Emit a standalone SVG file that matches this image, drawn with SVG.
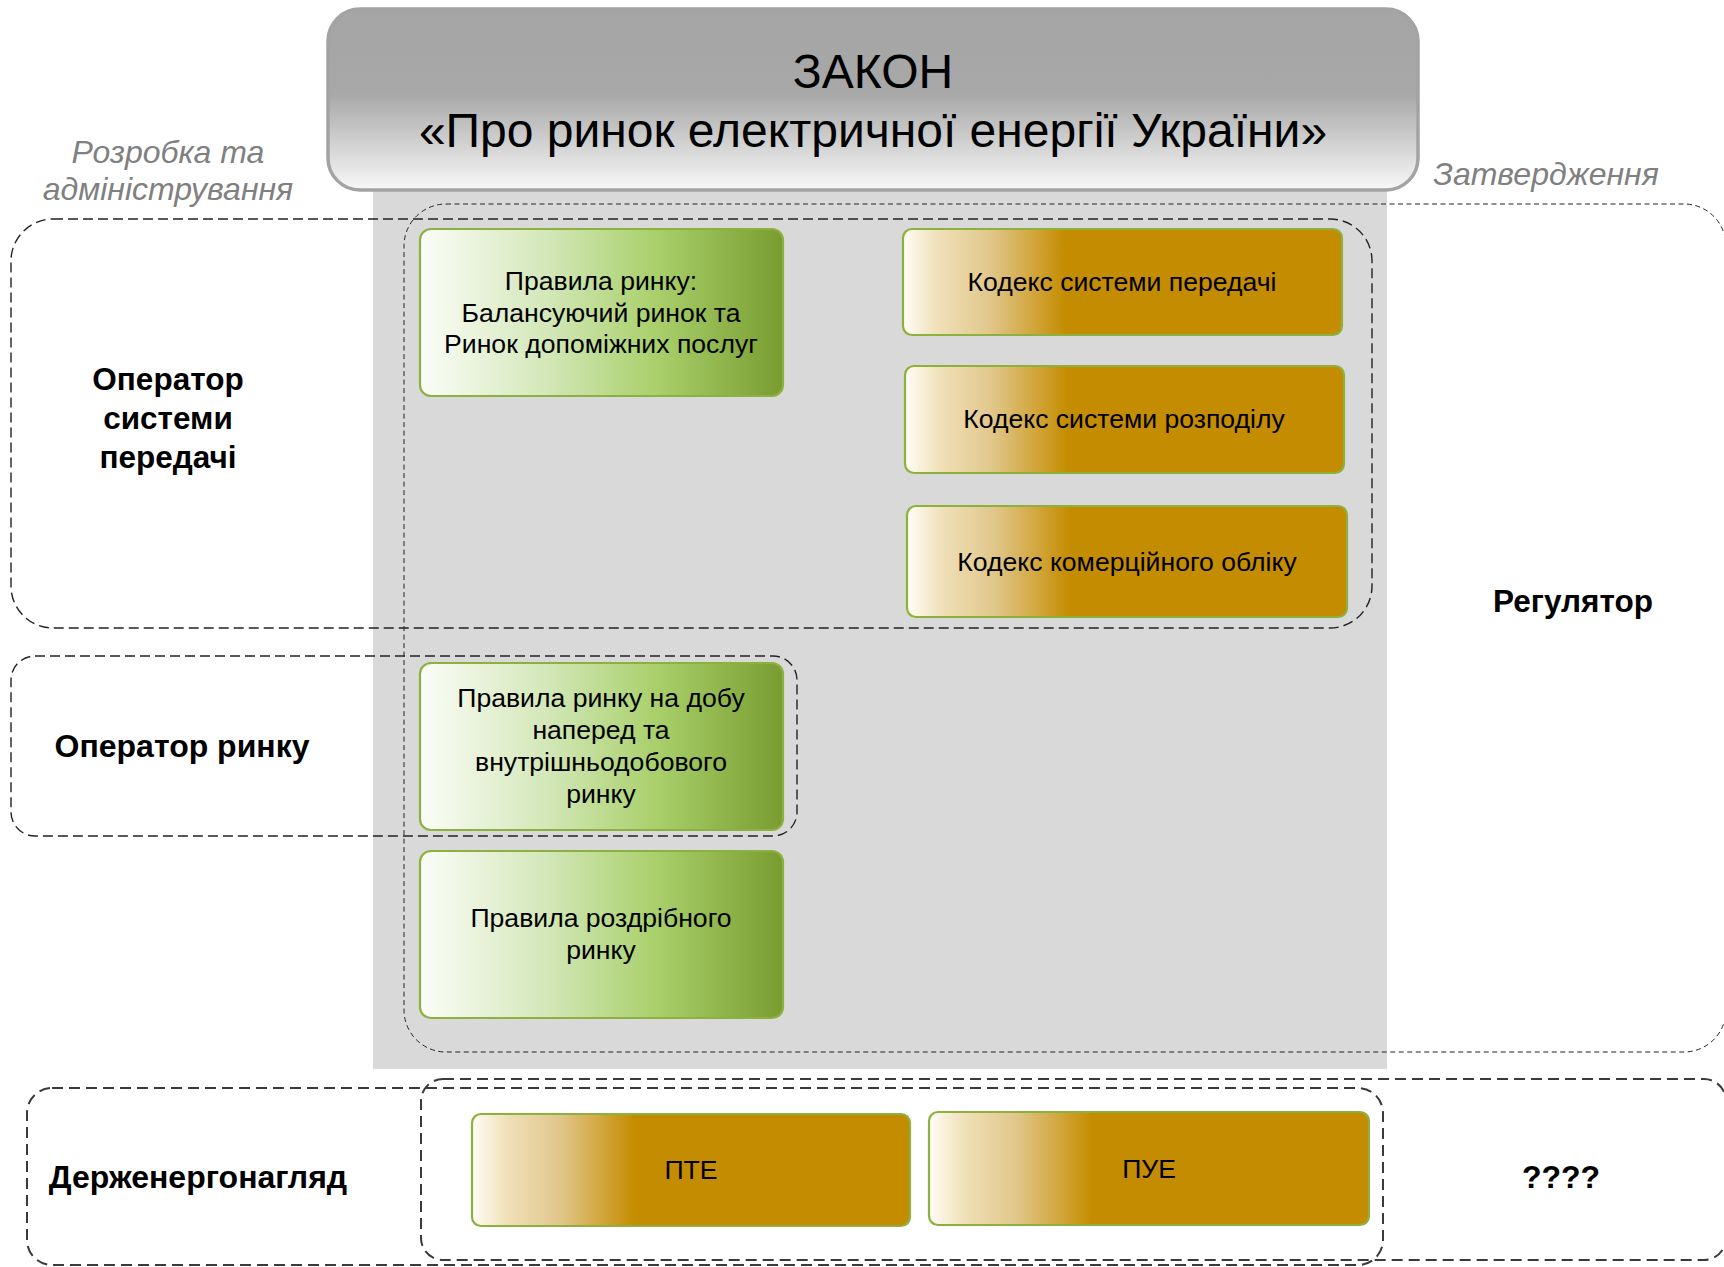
<svg xmlns="http://www.w3.org/2000/svg" width="1724" height="1267" viewBox="0 0 1724 1267">
  <defs>
    <linearGradient id="gTitle" x1="0" y1="0" x2="0" y2="1">
      <stop offset="0" stop-color="#a5a5a5"/>
      <stop offset="0.47" stop-color="#a8a8a8"/>
      <stop offset="1" stop-color="#f8f8f8"/>
    </linearGradient>
    <linearGradient id="gGreen" x1="0" y1="0" x2="1" y2="0">
      <stop offset="0" stop-color="#fbfdf8"/>
      <stop offset="0.35" stop-color="#d3e7b8"/>
      <stop offset="0.65" stop-color="#a9d06b"/>
      <stop offset="1" stop-color="#789c30"/>
    </linearGradient>
    <linearGradient id="gGold" x1="0" y1="0" x2="1" y2="0">
      <stop offset="0" stop-color="#fffdf6"/>
      <stop offset="0.08" stop-color="#f0e0b8"/>
      <stop offset="0.2" stop-color="#e0c68a"/>
      <stop offset="0.3" stop-color="#d2a53a"/>
      <stop offset="0.37" stop-color="#c48c00"/>
      <stop offset="1" stop-color="#c48c00"/>
    </linearGradient>
  </defs>
  <style>
    .panel { fill: #d9d9d9; }
    .dashA { fill: none; stroke: #222; stroke-width: 1.4; stroke-dasharray: 10 5; }
    .dashB { fill: none; stroke: #222; stroke-width: 1; stroke-dasharray: 5 3.5; }
    .dashD { fill: none; stroke: #3a3a3a; stroke-width: 2; stroke-dasharray: 11 6; }
    .green { fill: url(#gGreen); stroke: #8db13e; stroke-width: 2.2; }
    .gold { fill: url(#gGold); stroke: #8db13e; stroke-width: 2.2; }
    .title { fill: url(#gTitle); stroke: #a3a3a3; stroke-width: 3.5; }
    text { font-family: "Liberation Sans", Arial, sans-serif; fill: #000; text-anchor: middle; }
    .tt { font-size: 48px; }
    .box { font-size: 26.6px; }
    .lbl { font-size: 32px; font-weight: bold; }
    .it { font-size: 32px; font-style: italic; fill: #808080; }
  </style>

  <rect x="0" y="0" width="1724" height="1267" fill="#ffffff"/>
  <rect class="panel" x="373" y="185" width="1014" height="884"/>

  <g id="group-regulator">
    <rect class="dashB" x="404" y="204" width="1322" height="848" rx="42"/>
    <text class="lbl" x="1573" y="612" style="font-size:31.5px">Регулятор</text>
  </g>

  <g id="group-tso">
    <rect class="dashA" x="11" y="219" width="1361" height="409" rx="42"/>
    <text class="lbl" x="168" y="390" style="font-size:31.5px">Оператор</text>
    <text class="lbl" x="168" y="429" style="font-size:31.5px">системи</text>
    <text class="lbl" x="168" y="468" style="font-size:31.5px">передачі</text>
  </g>

  <g id="group-market-operator">
    <rect class="dashA" x="11" y="656" width="786" height="180" rx="24"/>
    <text class="lbl" x="182" y="757">Оператор ринку</text>
  </g>

  <g id="group-unknown">
    <rect class="dashD" x="421" y="1079" width="1305" height="181" rx="22"/>
    <text class="lbl" x="1561" y="1188">????</text>
  </g>

  <g id="group-derzhenergonahliad">
    <rect class="dashD" x="27" y="1088" width="1356" height="177" rx="25"/>
    <text class="lbl" x="198" y="1188">Держенергонагляд</text>
  </g>

  <g id="labels">
    <text class="it" x="168" y="163">Розробка та</text>
    <text class="it" x="168" y="200">адміністрування</text>
    <text class="it" x="1546" y="185">Затвердження</text>
  </g>

  <g id="node-rules-balancing">
    <rect class="green" x="420" y="229" width="363" height="167" rx="11"/>
    <text class="box" x="601" y="290">Правила ринку:</text>
    <text class="box" x="601" y="322">Балансуючий ринок та</text>
    <text class="box" x="601" y="353">Ринок допоміжних послуг</text>
  </g>

  <g id="node-rules-dayahead">
    <rect class="green" x="420" y="663" width="363" height="167" rx="11"/>
    <text class="box" x="601" y="707">Правила ринку на добу</text>
    <text class="box" x="601" y="739">наперед та</text>
    <text class="box" x="601" y="771">внутрішньодобового</text>
    <text class="box" x="601" y="803">ринку</text>
  </g>

  <g id="node-rules-retail">
    <rect class="green" x="420" y="851" width="363" height="167" rx="11"/>
    <text class="box" x="601" y="927">Правила роздрібного</text>
    <text class="box" x="601" y="959">ринку</text>
  </g>

  <g id="node-code-transmission">
    <rect class="gold" x="903" y="229" width="439" height="106" rx="9"/>
    <text class="box" x="1122" y="291">Кодекс системи передачі</text>
  </g>

  <g id="node-code-distribution">
    <rect class="gold" x="905" y="366" width="439" height="107" rx="9"/>
    <text class="box" x="1124" y="428">Кодекс системи розподілу</text>
  </g>

  <g id="node-code-metering">
    <rect class="gold" x="907" y="506" width="440" height="111" rx="9"/>
    <text class="box" x="1127" y="571">Кодекс комерційного обліку</text>
  </g>

  <g id="node-pte">
    <rect class="gold" x="472" y="1114" width="438" height="112" rx="9"/>
    <text class="box" x="691" y="1179">ПТЕ</text>
  </g>

  <g id="node-pue">
    <rect class="gold" x="929" y="1112" width="440" height="113" rx="9"/>
    <text class="box" x="1149" y="1178">ПУЕ</text>
  </g>

  <g id="node-law">
    <rect class="title" x="328" y="9" width="1090" height="181" rx="32"/>
    <text class="tt" x="873" y="88">ЗАКОН</text>
    <text class="tt" x="873" y="147">«Про ринок електричної енергії України»</text>
  </g>

  <g id="connectors"></g>
</svg>
